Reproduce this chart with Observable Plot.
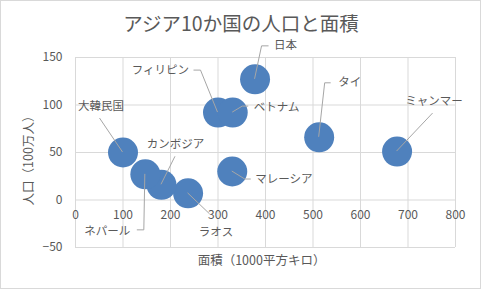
<!DOCTYPE html>
<html>
<head>
<meta charset="utf-8">
<script src="https://cdn.jsdelivr.net/npm/d3@7"></script>
<script src="https://cdn.jsdelivr.net/npm/@observablehq/plot@0.6"></script>
<style>
  html, body { margin: 0; padding: 0; background: #fff; }
</style>
</head>
<body>
<div id="chart"></div>
<script>
const titleText = "アジア10か国の人口と面積";
const xLabelText = "面積（1000平方キロ）";
const yLabelText = "人口（100万人）";

const countries = ["大韓民国", "日本", "フィリピン", "ベトナム", "タイ", "ミャンマー", "マレーシア", "ラオス", "カンボジア", "ネパール"];
const areaK = [100, 378, 300, 331, 513, 677, 330, 237, 181, 147];
const popM = [50, 127, 92, 92, 66, 51, 30, 7, 16, 27];

const xTicks = [0, 100, 200, 300, 400, 500, 600, 700, 800];
const yTicks = [-50, 0, 50, 100, 150];

// label placement (pixel offsets from bubble centre) and leader-line elbows
const labelLayout = {
  "大韓民国": {dx: -22, dy: -46, anchor: "middle", path: [[0, 0], [-23, -34]]},
  "日本": {dx: 19, dy: -34, anchor: "start", path: [[0, 0], [7, -33], [14, -33]]},
  "フィリピン": {dx: -29, dy: -42, anchor: "end", path: [[0, 0], [-17, -42], [-24, -42]]},
  "ベトナム": {dx: 21, dy: -5, anchor: "start", path: [[0, 0], [10, -6], [16, -6]]},
  "タイ": {dx: 19, dy: -55, anchor: "start", path: [[0, 0], [6, -54], [12, -54]]},
  "ミャンマー": {dx: 37, dy: -50, anchor: "middle", path: [[0, 0], [36, -38]]},
  "マレーシア": {dx: 23, dy: 8, anchor: "start", path: [[0, 0], [13, 8], [19, 8]]},
  "ラオス": {dx: 28, dy: 39, anchor: "middle", path: [[0, 0], [22, 21]]},
  "カンボジア": {dx: 14, dy: -40, anchor: "middle", path: [[0, 0], [14, -28]]},
  "ネパール": {dx: -15, dy: 56.5, anchor: "end", path: [[0, 0], [-1, 56], [-8, 56]]}
};

const data = countries.map((c, i) => ({name: c, area: areaK[i], pop: popM[i]}));

const textColor = "#595959";

const labelMarks = data.map(d => {
  const L = labelLayout[d.name];
  return Plot.text([d], {
    x: "area", y: "pop", text: "name",
    dx: L.dx, dy: L.dy, textAnchor: L.anchor,
    fontSize: 11.5, fill: textColor
  });
});

const plot = Plot.plot({
  width: 481,
  height: 289,
  marginLeft: 75,
  marginRight: 26,
  marginTop: 57,
  marginBottom: 42,
  style: {fontFamily: "'Noto Sans CJK JP', 'Noto Sans', sans-serif", background: "white", color: textColor, overflow: "visible"},
  x: {domain: [0, 800], axis: null, label: null},
  y: {domain: [-50, 150], axis: null, label: null},
  marks: [
    Plot.gridX(xTicks, {stroke: "#d9d9d9", strokeOpacity: 1}),
    Plot.gridY(yTicks, {stroke: "#d9d9d9", strokeOpacity: 1}),
    Plot.axisY(yTicks, {tickSize: 0, tickPadding: 13, fontSize: 12, label: null}),
    Plot.text(xTicks, {x: d => d, y: 0, dy: 15.5, fontSize: 12, fill: textColor}),
    Plot.dot(data, {x: "area", y: "pop", r: 15, fill: "#4f81bd", stroke: "none"}),
    ...labelMarks,
    Plot.text([titleText], {frameAnchor: "top", lineAnchor: "middle", dy: -33, dx: -24.5, fontSize: 19.5, fill: textColor}),
    Plot.text([xLabelText], {frameAnchor: "bottom", lineAnchor: "middle", dy: 13.5, dx: -4, fontSize: 12.5, fill: textColor}),
    Plot.text([yLabelText], {frameAnchor: "left", textAnchor: "middle", lineAnchor: "middle", dx: -47, dy: 5, rotate: -90, fontSize: 12.5, fill: textColor})
  ]
});

document.getElementById("chart").appendChild(plot);

// leader lines, positioned through Plot's own scales
const sx = plot.scale("x"), sy = plot.scale("y");
const svg = d3.select(plot);
const g = svg.append("g").attr("fill", "none").attr("stroke", "#a6a6a6").attr("stroke-width", 1);
data.forEach(d => {
  const cx = sx.apply(d.area), cy = sy.apply(d.pop);
  const pts = labelLayout[d.name].path.map(([ox, oy]) => [cx + ox, cy + oy]);
  g.append("path").attr("d", d3.line()(pts));
});
// bring labels above leader lines
svg.selectAll("g[aria-label='text']").each(function() { this.parentNode.appendChild(this); });
// chart border
svg.append("rect").attr("x", 0.5).attr("y", 0.5).attr("width", 480).attr("height", 288)
  .attr("fill", "none").attr("stroke", "#d9d9d9");
</script>
</body>
</html>
